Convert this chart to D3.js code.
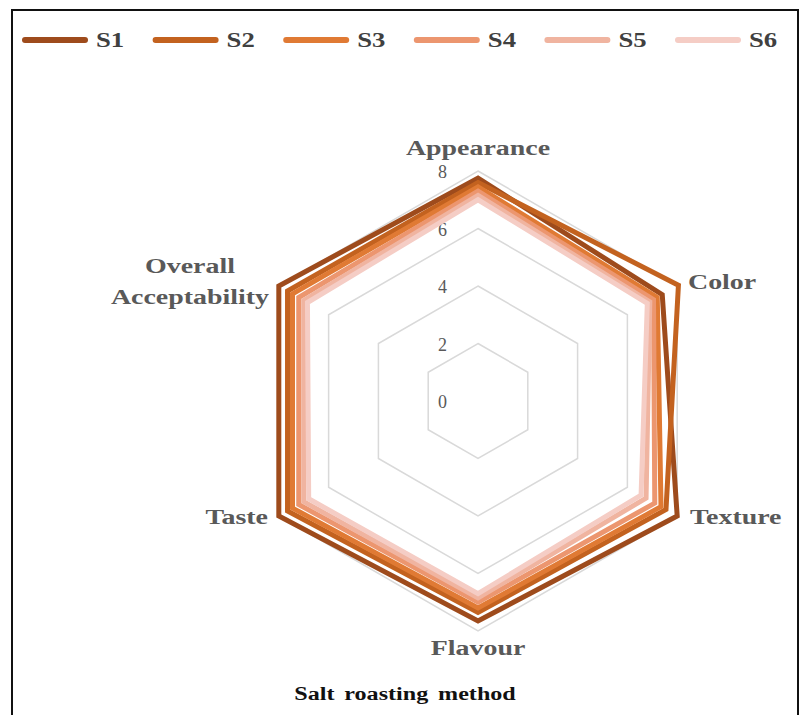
<!DOCTYPE html>
<html>
<head>
<meta charset="utf-8">
<script src="https://cdn.jsdelivr.net/npm/d3@7"></script>
<style>
  html, body { margin: 0; padding: 0; background: #fff; }
  svg { display: block; }
</style>
</head>
<body>
<svg id="chart" width="810" height="715"></svg>
<script>
// Sensory attributes (clockwise from top)
const attributes = ["Appearance", "Color", "Texture", "Flavour", "Taste", "Overall Acceptability"];
const seriesNames = ["S1", "S2", "S3", "S4", "S5", "S6"];
const tickValues = [0, 2, 4, 6, 8];

// Mean scores per sample, in attribute order
const s1 = [7.75, 7.4, 8.0, 7.65, 8.0, 8.0];
const s2 = [7.6, 8.05, 7.55, 7.35, 7.65, 7.65];
const s3 = [7.45, 7.2, 7.35, 7.2, 7.45, 7.45];
const s4 = [7.3, 7.05, 7.1, 7.0, 7.2, 7.2];
const s5 = [7.15, 6.9, 6.75, 6.85, 7.0, 7.0];
const s6 = [7.0, 6.8, 6.55, 6.7, 6.8, 6.85];
const seriesValues = [s1, s2, s3, s4, s5, s6];

const colors = ["#9E4B1C", "#C3621F", "#E07A34", "#EC966F", "#F0B4A0", "#F5CDC5"];

const svg = d3.select("#chart");
const W = 810, H = 715;
const cx = 478, cy = 401;
const STRETCH = 1.27; // horizontal widening of the bold serif labels
const FONT = "Liberation Serif, 'Times New Roman', serif";

// outer frame
svg.append("path")
  .attr("d", `M12,${H + 5} L12,10 L798,10 L798,${H + 5}`)
  .attr("fill", "none").attr("stroke", "#111").attr("stroke-width", 2);

const r = d3.scaleLinear().domain([0, 8]).range([0, 230]);
const angle = d3.scalePoint().domain(attributes).range([0, 2 * Math.PI * (5 / 6)]);

const radial = d3.lineRadial()
  .angle((d, i) => angle(attributes[i]))
  .radius(d => r(d))
  .curve(d3.curveLinearClosed);

const g = svg.append("g").attr("transform", `translate(${cx},${cy})`);

// hexagonal gridlines
g.selectAll("path.grid")
  .data(tickValues.filter(v => v > 0))
  .join("path")
  .attr("class", "grid")
  .attr("d", v => radial(attributes.map(() => v)))
  .attr("fill", "none")
  .attr("stroke", "#d9d9d9")
  .attr("stroke-width", 1.5);

// tick labels
g.selectAll("text.tick")
  .data(tickValues)
  .join("text")
  .attr("class", "tick")
  .attr("x", -31)
  .attr("y", v => -r(v))
  .attr("dy", "0.4em")
  .attr("text-anchor", "end")
  .attr("font-family", FONT)
  .attr("font-size", 18)
  .attr("fill", "#595959")
  .text(v => v);

// series
g.selectAll("path.series")
  .data(seriesValues)
  .join("path")
  .attr("class", "series")
  .attr("d", d => radial(d))
  .attr("fill", "none")
  .attr("stroke", (d, i) => colors[i])
  .attr("stroke-width", 5)
  .attr("stroke-linejoin", "miter");

// stretched bold label helper
function label(parent, x, y, lines, anchor, size, fill, lineGap) {
  const holder = parent.append("g")
    .attr("transform", `translate(${x},${y}) scale(${STRETCH},1)`);
  const t = holder.append("text")
    .attr("text-anchor", anchor)
    .attr("font-family", FONT)
    .attr("font-weight", "bold")
    .attr("font-size", size)
    .attr("fill", fill);
  lines.forEach((l, i) => {
    t.append("tspan").attr("x", 0).attr("dy", i === 0 ? 0 : lineGap).text(l);
  });
  return t;
}

// attribute labels
const labelPos = {
  "Appearance": { x: 0, y: -246, anchor: "middle", lines: ["Appearance"] },
  "Color": { x: 210, y: -112, anchor: "start", lines: ["Color"] },
  "Texture": { x: 212, y: 123, anchor: "start", lines: ["Texture"] },
  "Flavour": { x: 0, y: 254, anchor: "middle", lines: ["Flavour"] },
  "Taste": { x: -210, y: 123, anchor: "end", lines: ["Taste"] },
  "Overall Acceptability": { x: -288, y: -128, anchor: "middle", lines: ["Overall", "Acceptability"] }
};
attributes.forEach(a => {
  const p = labelPos[a];
  label(g, p.x, p.y, p.lines, p.anchor, 22, "#595959", 31);
});

// legend
const legend = svg.append("g").attr("transform", "translate(25,40)");
const lx = d3.scalePoint().domain(seriesNames).range([0, 653]);
const item = legend.selectAll("g.item").data(seriesNames).join("g")
  .attr("class", "item")
  .attr("transform", d => `translate(${lx(d)},0)`);
item.append("line")
  .attr("x1", 0).attr("x2", 60).attr("y1", 0).attr("y2", 0)
  .attr("stroke", (d, i) => colors[i])
  .attr("stroke-width", 6)
  .attr("stroke-linecap", "round");
item.each(function (d) {
  label(d3.select(this), 71, 7, [d], "start", 21, "#404040", 0);
});

// caption
label(svg, 405, 700, ["Salt roasting method"], "middle", 19, "#111", 0)
  .attr("word-spacing", 3);
</script>
</body>
</html>
